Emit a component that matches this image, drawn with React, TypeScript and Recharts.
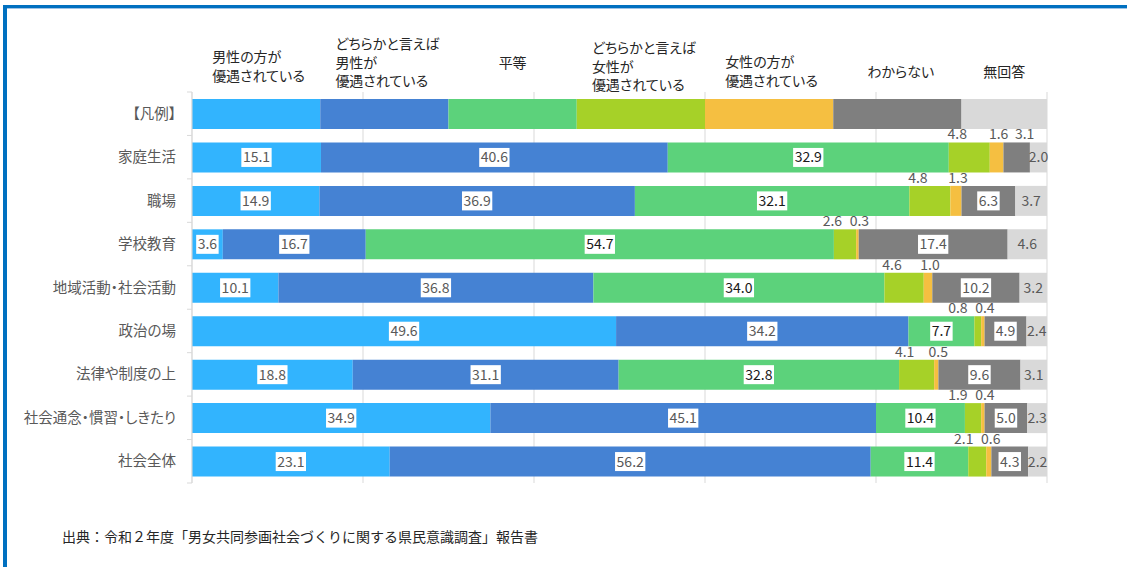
import React from "react";
import { BarChart, Bar, XAxis, YAxis, CartesianGrid, LabelList } from "recharts";

const categories = [
  "【凡例】",
  "家庭生活",
  "職場",
  "学校教育",
  "地域活動・社会活動",
  "政治の場",
  "法律や制度の上",
  "社会通念・慣習・しきたり",
  "社会全体",
];

// first value of each array is the legend row
const manFavored = [15, 15.1, 14.9, 3.6, 10.1, 49.6, 18.8, 34.9, 23.1];
const ratherMan = [15, 40.6, 36.9, 16.7, 36.8, 34.2, 31.1, 45.1, 56.2];
const equal = [15, 32.9, 32.1, 54.7, 34.0, 7.7, 32.8, 10.4, 11.4];
const ratherWoman = [15, 4.8, 4.8, 2.6, 4.6, 0.8, 4.1, 1.9, 2.1];
const womanFavored = [15, 1.6, 1.3, 0.3, 1.0, 0.4, 0.5, 0.4, 0.6];
const unknown = [15, 3.1, 6.3, 17.4, 10.2, 4.9, 9.6, 5.0, 4.3];
const noAnswer = [10, 2.0, 3.7, 4.6, 3.2, 2.4, 3.1, 2.3, 2.2];

const seriesHeaders = [
  ["男性の方が", "優遇されている"],
  ["どちらかと言えば", "男性が", "優遇されている"],
  ["平等"],
  ["どちらかと言えば", "女性が", "優遇されている"],
  ["女性の方が", "優遇されている"],
  ["わからない"],
  ["無回答"],
];

const seriesValues = [manFavored, ratherMan, equal, ratherWoman, womanFavored, unknown, noAnswer];
const colors = ["#32B4FE", "#4582D3", "#5CD27B", "#A6D128", "#F5BF41", "#7F7F7F", "#D9D9D9"];

// layout
const W = 1127;
const H = 567;
const M = { top: 92, right: 80, bottom: 84, left: 0 };
const BAND_HALF = (H - M.top - M.bottom) / categories.length / 2;
const HEADER_FIRST_LINE = [57, 44, 63, 48, 62, 72, 72];
const HEADER_LINE_H = 18.5;
const ORANGE_SHIFT = 2;
const YELLOW_SHIFT = -12;
const YELLOW_MIN_SEP = 27;
const GRAY_ABOVE_SHIFT = 8;

const JP = '"Noto Sans CJK JP", "Noto Sans", sans-serif';
const NUM_FS = 14;

function textWidth(s: string, fs: number) {
  let w = 0;
  for (const ch of s) w += ch === "." ? 0.27 * fs : 0.56 * fs;
  return w;
}

function headerWidth(s: string) {
  let w = 0;
  for (const ch of s) w += /[\u3040-\u309f]/.test(ch) ? 12 : 14;
  return w;
}

function CategoryTick(props: any) {
  const { x, y, payload, index } = props;
  const axisX = x + 16;
  const last = index === categories.length - 1;
  return (
    <g>
      <text
        x={x}
        y={y + 5}
        textAnchor="end"
        fontSize={14.5}
        fill="#595959"
        fontFamily={JP}
        style={{ fontFeatureSettings: '"palt"' }}
      >
        {payload.value}
      </text>
      <line x1={axisX - 5} x2={axisX} y1={y - BAND_HALF} y2={y - BAND_HALF} stroke="#d9d9d9" />
      {last && <line x1={axisX - 5} x2={axisX} y1={y + BAND_HALF} y2={y + BAND_HALF} stroke="#d9d9d9" />}
    </g>
  );
}

const makeLabel = (si: number) => (props: any) => {
  const x = Number(props.x);
  const y = Number(props.y);
  const width = Number(props.width);
  const height = Number(props.height);
  const { index, value } = props;
  const cx = x + width / 2;

  if (index === 0) {
    const lines = seriesHeaders[si];
    const maxW = Math.max(...lines.map(headerWidth));
    const left = cx - maxW / 2;
    return (
      <g>
        {lines.map((l, i) => (
          <text
            key={i}
            x={left}
            y={HEADER_FIRST_LINE[si] + i * HEADER_LINE_H + 5}
            fontSize={14}
            fill="#262626"
            fontFamily={JP}
            style={{ fontFeatureSettings: '"palt"' }}
          >
            {l}
          </text>
        ))}
      </g>
    );
  }

  const v = Number(value);
  const txt = v.toFixed(1);
  const cy = y + height / 2;
  const above = si === 3 || si === 4 || (si === 5 && v < 4);

  if (above) {
    let lx = cx;
    if (si === 4) lx = cx + ORANGE_SHIFT;
    if (si === 5) lx = cx + GRAY_ABOVE_SHIFT;
    if (si === 3) {
      // keep clear of the orange label to the right
      const pxPerUnit = v > 0 ? width / v : 0;
      const orangeCx = x + width + (womanFavored[index] * pxPerUnit) / 2 + ORANGE_SHIFT;
      lx = Math.min(cx + YELLOW_SHIFT, orangeCx - YELLOW_MIN_SEP);
    }
    return (
      <text x={lx} y={y - 3} textAnchor="middle" fontSize={NUM_FS} fill="#595959" fontFamily={JP}>
        {txt}
      </text>
    );
  }

  const boxed = si !== 6;
  const tw = textWidth(txt, NUM_FS) + 3;
  return (
    <g>
      {boxed && <rect x={cx - tw / 2} y={cy - 9.5} width={tw} height={19} fill="#ffffff" />}
      <text
        x={cx}
        y={cy + 5}
        textAnchor="middle"
        fontSize={NUM_FS}
        fill={si === 2 ? "#1a1a1a" : "#595959"}
        fontFamily={JP}
      >
        {txt}
      </text>
    </g>
  );
};

export default function App() {
  const data = categories.map((name, i) => {
    const row: Record<string, string | number> = { name };
    seriesValues.forEach((arr, si) => {
      row[`s${si}`] = arr[i];
    });
    return row;
  });

  return (
    <div style={{ position: "absolute", left: 0, top: 0, width: W, height: H, background: "#fff" }}>
      <div style={{ position: "absolute", left: 3, top: 5, width: W - 3, height: 3, background: "#0070C0" }} />
      <div style={{ position: "absolute", left: 3, top: 8, width: W - 3, height: 1, background: "#9DC3E6" }} />
      <div style={{ position: "absolute", left: 3, top: 5, width: 4, height: H - 5, background: "#0070C0" }} />
      <BarChart
        width={W}
        height={H}
        data={data}
        layout="vertical"
        stackOffset="expand"
        margin={M}
        barSize={30}
      >
        <CartesianGrid horizontal={false} stroke="#d9d9d9" />
        <XAxis type="number" domain={[0, 1]} ticks={[0.2, 0.4, 0.6, 0.8]} hide />
        <YAxis
          type="category"
          dataKey="name"
          width={192}
          interval={0}
          axisLine={{ stroke: "#d9d9d9" }}
          tickLine={false}
          tickSize={6}
          tickMargin={10}
          tick={(p: any) => <CategoryTick {...p} />}
        />
        {seriesValues.map((_, si) => (
          <Bar key={si} dataKey={`s${si}`} stackId="a" fill={colors[si]} isAnimationActive={false}>
            <LabelList dataKey={`s${si}`} content={makeLabel(si)} />
          </Bar>
        ))}
      </BarChart>
      <div
        style={{
          position: "absolute",
          left: 62,
          top: 526,
          fontSize: 14,
          color: "#262626",
          fontFamily: JP,
          whiteSpace: "nowrap",
        }}
      >
        出典：令和２年度「男女共同参画社会づくりに関する県民意識調査」報告書
      </div>
    </div>
  );
}
